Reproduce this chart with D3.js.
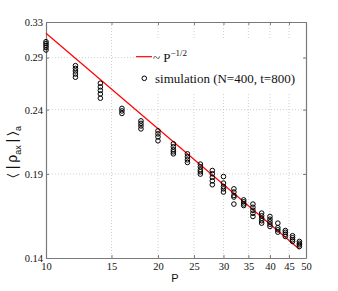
<!DOCTYPE html>
<html lang="en">
<head>
<meta charset="UTF-8">
<title>rho vs P</title>
<script src="https://d3js.org/d3.v7.min.js"></script>
<style>
  body { margin: 0; background: #fff; }
  svg { display: block; }
</style>
</head>
<body>
<div id="chart"></div>
<script>
// system size P, one column of runs for each
var pValues = [10, 12, 14, 16, 18, 20, 22, 24, 26, 28, 30, 32, 34, 36, 38, 40, 42, 44, 46, 48];
var simValues = [
    [0.3072, 0.3052, 0.3030, 0.3008, 0.2981],
    [0.2816, 0.2788, 0.2762, 0.2732, 0.2700],
    [0.2642, 0.2607, 0.2574, 0.2541, 0.2502],
    [0.2411, 0.2389, 0.2367],
    [0.2304, 0.2283, 0.2262, 0.2238],
    [0.2222, 0.2198, 0.2174, 0.2143],
    [0.2120, 0.2097, 0.2074, 0.2059, 0.2044],
    [0.2044, 0.2022, 0.2000, 0.1981],
    [0.1969, 0.1950, 0.1929, 0.1915, 0.1899],
    [0.1924, 0.1901, 0.1877, 0.1853, 0.1827],
    [0.1882, 0.1838, 0.1815, 0.1800, 0.1779],
    [0.1800, 0.1779, 0.1757, 0.1747, 0.1703],
    [0.1729, 0.1717, 0.1704, 0.1694],
    [0.1703, 0.1683, 0.1665, 0.1647, 0.1628],
    [0.1648, 0.1632, 0.1617, 0.1603, 0.1589],
    [0.1628, 0.1612, 0.1597, 0.1583, 0.1570],
    [0.1589, 0.1563, 0.1551, 0.1538],
    [0.1547, 0.1537, 0.1526, 0.1514],
    [0.1518, 0.1507, 0.1496, 0.1487],
    [0.1487, 0.1477, 0.1469, 0.1460]
];
// ~ P^-1/2 guide line (straight on log-log), end points
var fitP = [10, 48];
var fitValues = [0.3167, 0.1445];

var xTicks = [10, 15, 20, 25, 30, 35, 40, 45, 50];
var yTicks = [0.14, 0.19, 0.24, 0.29, 0.33];

var width = 338, height = 291;
var margin = {top: 22, right: 32, bottom: 33, left: 46};
var iw = width - margin.left - margin.right,
    ih = height - margin.top - margin.bottom;

var x = d3.scaleLog().domain([10, 50]).range([0, iw]);
var y = d3.scaleLog().domain([0.14, 0.33]).range([ih, 0]);

var svg = d3.select("#chart").append("svg")
    .attr("width", width)
    .attr("height", height);

var g = svg.append("g")
    .attr("transform", `translate(${margin.left},${margin.top})`);

// grid
var grid = g.append("g")
    .attr("stroke", "#c4c4c4")
    .attr("stroke-width", 0.8)
    .attr("stroke-dasharray", "1,2");
grid.selectAll("line.gx").data(xTicks.slice(1, -1)).enter().append("line")
    .attr("x1", d => x(d)).attr("x2", d => x(d))
    .attr("y1", 0).attr("y2", ih);
grid.selectAll("line.gy").data(yTicks.slice(1, -1)).enter().append("line")
    .attr("y1", d => y(d)).attr("y2", d => y(d))
    .attr("x1", 0).attr("x2", iw);

// axes (ticks inside, box on)
var tickFont = "'Liberation Serif', 'Times New Roman', serif";
var xAxis = g.append("g")
    .attr("transform", `translate(0,${ih})`)
    .call(d3.axisBottom(x).tickValues(xTicks).tickFormat(d3.format("d")).tickSizeInner(-3).tickSizeOuter(0).tickPadding(6));
var xTop = g.append("g")
    .call(d3.axisTop(x).tickValues(xTicks).tickFormat("").tickSizeInner(-3).tickSizeOuter(0));
var yAxis = g.append("g")
    .call(d3.axisLeft(y).tickValues(yTicks).tickFormat(d3.format(".2f")).tickSizeInner(-3).tickSizeOuter(0).tickPadding(3));
var yRight = g.append("g")
    .attr("transform", `translate(${iw},0)`)
    .call(d3.axisRight(y).tickValues(yTicks).tickFormat("").tickSizeInner(-3).tickSizeOuter(0));

[xAxis, xTop, yAxis, yRight].forEach(a => {
    a.select(".domain").attr("stroke", "#7a7a7a").attr("stroke-width", 1.2);
    a.selectAll(".tick line").attr("stroke", "#7a7a7a");
    a.selectAll("text")
        .attr("font-family", tickFont)
        .attr("font-size", "10.5px")
        .attr("fill", "#111");
});
xAxis.selectAll("text").attr("dy", "0.55em");

// legend background (hides grid)
var legend = g.append("g");
legend.append("rect")
    .attr("x", 88).attr("y", 16)
    .attr("width", 168).attr("height", 54)
    .attr("fill", "#fff");

// guide line
var line = d3.line().x(d => x(d[0])).y(d => y(d[1]));
g.append("path")
    .datum(d3.zip(fitP, fitValues))
    .attr("d", line)
    .attr("fill", "none")
    .attr("stroke", "#ff0000")
    .attr("stroke-width", 1.2);

// simulation points
var pts = [];
pValues.forEach((p, i) => simValues[i].forEach(v => pts.push([p, v])));
g.append("g").selectAll("circle")
    .data(pts).enter().append("circle")
    .attr("cx", d => x(d[0]))
    .attr("cy", d => y(d[1]))
    .attr("r", 2.3)
    .attr("fill", "none")
    .attr("stroke", "#000")
    .attr("stroke-width", 1);

// legend entries
var lx = 90, ly1 = 34.7, ly2 = 56.3;
legend.append("line")
    .attr("x1", lx).attr("x2", lx + 16)
    .attr("y1", ly1).attr("y2", ly1)
    .attr("stroke", "#ff0000").attr("stroke-width", 1.2);
var t1 = legend.append("text")
    .attr("x", lx + 17).attr("y", ly1 + 5.5)
    .attr("font-family", tickFont)
    .attr("font-size", "13px")
    .attr("fill", "#111");
t1.append("tspan").text("~ P");
t1.append("tspan").attr("dy", -6).attr("font-size", "9px").text("\u22121/2");

legend.append("circle")
    .attr("cx", lx + 8.3).attr("cy", ly2)
    .attr("r", 2.3)
    .attr("fill", "none").attr("stroke", "#000");
legend.append("text")
    .attr("x", lx + 19).attr("y", ly2 + 4.4)
    .attr("font-family", tickFont)
    .attr("font-size", "13px")
    .attr("fill", "#111")
    .text("simulation (N=400, t=800)");

// axis labels
svg.append("text")
    .attr("x", margin.left + iw / 2 - 1)
    .attr("y", 282)
    .attr("text-anchor", "middle")
    .attr("font-family", "'Liberation Sans', Arial, sans-serif")
    .attr("font-size", "11px")
    .attr("fill", "#111")
    .text("P");

var yl = svg.append("text")
    .attr("transform", "translate(17,152) rotate(-90)")
    .attr("text-anchor", "middle")
    .attr("font-family", "'Liberation Sans', Arial, sans-serif")
    .attr("font-size", "14px")
    .attr("fill", "#111");
yl.append("tspan").text("\u2329 |\u2009\u03c1");
yl.append("tspan").attr("dy", 3.5).attr("font-size", "9px").text("ax");
yl.append("tspan").attr("dy", -3.5).text("\u2009|\u2009\u232a");
yl.append("tspan").attr("dy", 3.5).attr("font-size", "9px").text("a");
</script>
</body>
</html>
